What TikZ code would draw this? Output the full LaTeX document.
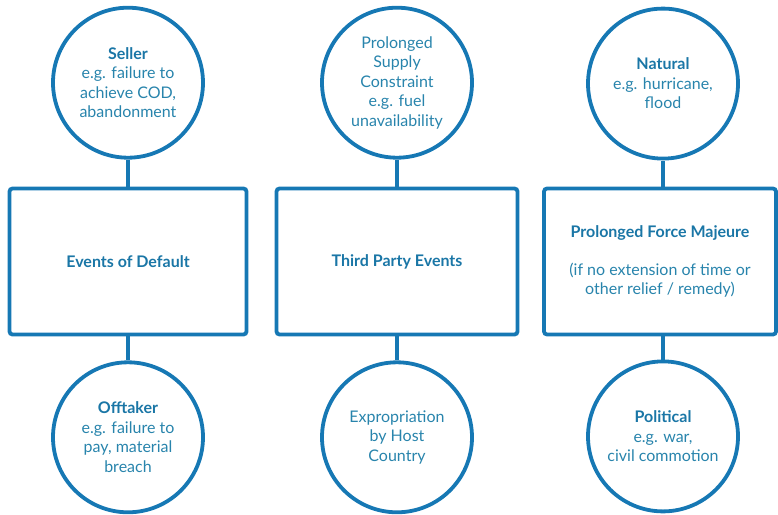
\documentclass[tikz,border=0pt]{standalone}
\usepackage{fontspec}
\setmainfont{Lato}
\usetikzlibrary{positioning}
\definecolor{rim}{RGB}{22,120,180}
\definecolor{ink}{RGB}{40,132,172}
\definecolor{head}{RGB}{26,118,166}
\tikzstyle{event}=[circle,draw=rim,line width=3.8pt,minimum size=150pt,inner sep=0pt,align=center,text=ink,font=\fontsize{16}{19.5}\selectfont]
\tikzstyle{group}=[rectangle,rounded corners=3pt,draw=rim,line width=3.8pt,minimum height=146pt,align=center,text=ink,font=\fontsize{16}{19.5}\selectfont]
\tikzstyle{link}=[draw=rim,line width=3.8pt]
\newcommand{\ttl}[1]{{\bfseries\color{head}#1}}

\begin{document}
\begin{tikzpicture}[x=1pt,y=-1pt]
    \useasboundingbox (0,0) rectangle (778,514);

    \node[group,minimum width=237pt] (D) at (128,261.5) {\ttl{Events of Default}};
    \node[group,minimum width=241pt] (T) at (397,261.5) {\ttl{Third Party Events}};
    \node[group,minimum width=232pt] (F) at (660,261.5) {\ttl{Prolonged Force Majeure}\\[18pt](if no extension of time or\\other relief / remedy)};
    \coordinate (Ftop) at (663,187.5);
    \coordinate (Fbot) at (663,335.5);

    \node[event] (S) [above=27pt of D] {\ttl{Seller}\\e.g. failure to\\achieve COD,\\abandonment};
    \node[event] (P) [above=27pt of T] {Prolonged\\Supply\\Constraint\\e.g. fuel\\unavailability};
    \node[event] (N) [above=27pt of Ftop] {\ttl{Natural}\\e.g. hurricane,\\flood};

    \node[event] (O) [below=24pt of D] {\ttl{Offtaker}\\e.g. failure to\\pay, material\\breach};
    \node[event] (E) [below=24pt of T] {Expropriation\\by Host\\Country};
    \node[event] (L) [below=24pt of Fbot] {\ttl{Political}\\e.g. war,\\civil commotion};

    \path[link] (S) -- (D) (D) -- (O);
    \path[link] (P) -- (T) (T) -- (E);
    \path[link] (N) -- (Ftop) (L) -- (Fbot);

\end{tikzpicture}
\end{document}
